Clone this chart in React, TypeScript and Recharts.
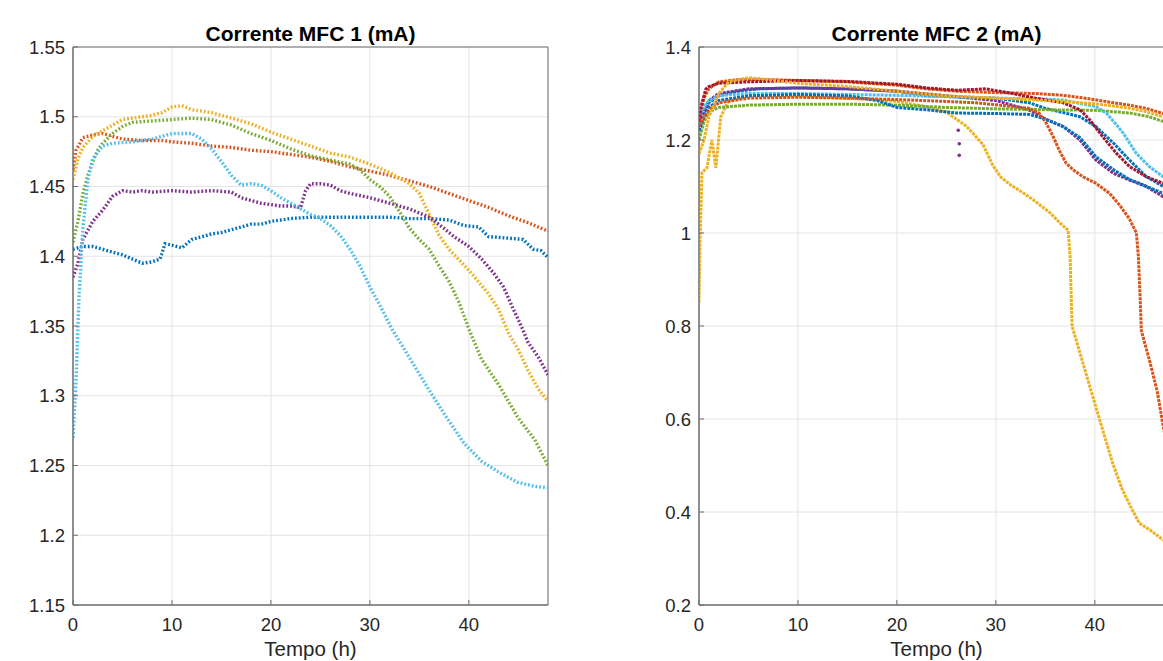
import React from 'react';
import { ComposedChart, Line, XAxis, YAxis, CartesianGrid, ReferenceArea, Scatter } from 'recharts';

type P = [number, number];

const xTicks = [0, 10, 20, 30, 40];
const yTicks1 = [1.15, 1.2, 1.25, 1.3, 1.35, 1.4, 1.45, 1.5, 1.55];
const yTicks2 = [0.2, 0.4, 0.6, 0.8, 1, 1.2, 1.4];
const title1 = 'Corrente MFC 1 (mA)';
const title2 = 'Corrente MFC 2 (mA)';
const xLabel = 'Tempo (h)';

// ---- MFC 1 series (time h, current mA) ----
const m1Blue: P[] = [[0,1.405],[1,1.407],[2,1.407],[3,1.405],[4,1.403],[5,1.401],[6,1.398],[7,1.395],[8,1.396],[8.8,1.398],[9.3,1.409],[10,1.408],[11,1.406],[12,1.412],[13,1.414],[14,1.416],[15,1.417],[16,1.419],[17,1.421],[18,1.423],[19,1.423],[20,1.425],[21,1.426],[22,1.427],[24,1.428],[26,1.428],[28,1.428],[30,1.428],[32,1.428],[34,1.427],[36,1.427],[38,1.426],[39.5,1.422],[41,1.421],[42,1.414],[44,1.413],[45.5,1.412],[46.5,1.405],[47.3,1.404],[48,1.399]];
const m1Orange: P[] = [[0,1.462],[0.3,1.476],[0.7,1.481],[1,1.485],[2,1.487],[3,1.488],[4,1.486],[5,1.484],[7,1.483],[9,1.483],[10,1.482],[12,1.481],[14,1.479],[16,1.478],[18,1.476],[20,1.475],[22,1.473],[24,1.471],[26,1.468],[28,1.464],[30,1.461],[32,1.458],[34,1.454],[36,1.45],[38,1.445],[40,1.44],[42,1.435],[44,1.429],[46,1.424],[48,1.418]];
const m1Yellow: P[] = [[0,1.455],[0.5,1.47],[1,1.478],[2,1.486],[3,1.49],[4,1.494],[5,1.498],[6,1.499],[8,1.501],[9,1.503],[10,1.507],[11,1.508],[12,1.505],[13,1.504],[14,1.503],[15,1.501],[16,1.499],[17,1.497],[18,1.495],[19,1.492],[20,1.489],[22,1.484],[24,1.479],[26,1.474],[28,1.471],[30,1.466],[32,1.46],[34,1.452],[35,1.445],[36,1.43],[37,1.415],[38,1.405],[40,1.39],[42,1.373],[43,1.362],[44,1.345],[45,1.333],[46,1.318],[47,1.305],[48,1.296]];
const m1Purple: P[] = [[0,1.385],[0.5,1.395],[1,1.412],[2,1.425],[3,1.433],[4,1.443],[5,1.447],[6,1.446],[7,1.447],[8,1.446],[10,1.447],[12,1.446],[14,1.447],[16,1.446],[17,1.442],[18,1.44],[19,1.438],[20,1.437],[21,1.436],[22,1.436],[23,1.435],[23.5,1.447],[24,1.452],[25,1.452],[26,1.451],[27,1.447],[28,1.445],[30,1.442],[32,1.438],[34,1.434],[36,1.428],[37.5,1.42],[38.5,1.414],[40,1.407],[41.3,1.398],[42.5,1.388],[43.5,1.378],[44.5,1.362],[45.3,1.35],[46,1.338],[47,1.328],[48,1.315]];
const m1Green: P[] = [[0,1.41],[0.5,1.425],[1,1.445],[1.5,1.458],[2,1.468],[2.5,1.476],[3,1.481],[4,1.488],[5,1.493],[6,1.496],[8,1.497],[10,1.498],[12,1.499],[14,1.498],[16,1.494],[18,1.488],[20,1.483],[22,1.477],[24,1.472],[26,1.469],[28,1.466],[29,1.462],[30,1.455],[31,1.45],[32,1.443],[33,1.432],[34,1.42],[35,1.412],[36,1.405],[37,1.393],[38,1.382],[39,1.367],[40,1.348],[41.3,1.326],[43.1,1.307],[44.9,1.285],[46.7,1.268],[48,1.25]];
const m1LightBlue: P[] = [[0,1.27],[0.3,1.31],[0.6,1.37],[1,1.42],[1.5,1.455],[2,1.47],[3,1.479],[4,1.481],[6,1.482],[8,1.484],[10,1.488],[12,1.488],[13,1.484],[14,1.477],[15,1.468],[16,1.458],[17,1.451],[18,1.452],[19,1.451],[20,1.447],[21,1.442],[22,1.438],[23,1.434],[24,1.43],[25,1.427],[26,1.422],[27,1.415],[28,1.405],[29,1.393],[30,1.378],[31,1.365],[32.3,1.347],[34.1,1.326],[35.9,1.305],[37.7,1.285],[39.5,1.266],[41.3,1.253],[43.1,1.245],[44.9,1.238],[46.7,1.235],[48,1.234]];

// ---- MFC 2 series ----
const m2BlueA: P[] = [[0,1.23],[0.5,1.26],[1,1.28],[2,1.295],[4,1.305],[6,1.31],[10,1.312],[15,1.31],[20,1.305],[23,1.295],[27,1.292],[30,1.29],[33.4,1.28],[35,1.268],[37,1.258],[38.5,1.25],[40.1,1.229],[41.9,1.193],[43.5,1.157],[45.2,1.121],[46.9,1.1],[48,1.09]];
const m2OrangeA: P[] = [[0,1.24],[0.5,1.29],[1,1.31],[2,1.325],[4,1.33],[7,1.33],[10,1.328],[15,1.325],[20,1.318],[23,1.31],[26,1.305],[30,1.302],[34,1.3],[36.8,1.296],[39,1.29],[41.9,1.28],[43.5,1.275],[45.2,1.268],[46.9,1.257],[48,1.25]];
const m2YellowA: P[] = [[0,0.85],[0.1,0.98],[0.3,1.13],[0.8,1.14],[1.3,1.2],[1.7,1.14],[2.2,1.25],[3,1.285],[5,1.295],[10,1.295],[15,1.29],[20,1.283],[23.3,1.27],[25,1.26],[26,1.245],[27,1.23],[27.7,1.214],[28.7,1.19],[29.7,1.145],[30.5,1.12],[31.5,1.103],[32.5,1.09],[33.8,1.071],[35.5,1.043],[36.5,1.021],[37.3,1.006],[37.5,0.95],[37.7,0.8],[38.8,0.72],[39.8,0.648],[40.8,0.576],[41.8,0.505],[42.8,0.447],[43.8,0.404],[44.5,0.376],[45.6,0.361],[46.9,0.34],[48,0.325]];
const m2PurpleA: P[] = [[0,1.22],[0.5,1.26],[1,1.285],[2,1.3],[5,1.31],[10,1.312],[15,1.31],[20,1.305],[25,1.295],[30,1.285],[33.4,1.264],[35,1.245],[36.8,1.229],[38.5,1.2],[40.1,1.157],[41.9,1.128],[43.5,1.114],[45.2,1.1],[46.9,1.078],[48,1.07]];
const m2GreenA: P[] = [[0,1.2],[0.5,1.24],[1,1.26],[2,1.27],[5,1.275],[10,1.277],[15,1.277],[20,1.275],[25,1.27],[30,1.267],[35,1.265],[40,1.264],[43.5,1.258],[45.5,1.25],[46.9,1.24],[48,1.235]];
const m2LightBlueA: P[] = [[0,1.25],[0.5,1.27],[1,1.285],[2,1.295],[5,1.3],[10,1.3],[15,1.298],[20,1.296],[25,1.293],[30,1.29],[35,1.288],[36.8,1.286],[40.1,1.272],[41.2,1.257],[42.1,1.235],[42.9,1.214],[44.2,1.171],[45.5,1.143],[46.9,1.121],[48,1.11]];
const m2DarkRedA: P[] = [[0,1.24],[0.3,1.28],[0.7,1.31],[1,1.315],[2,1.322],[5,1.325],[10,1.328],[15,1.326],[20,1.32],[23,1.312],[26,1.307],[29,1.31],[31.7,1.3],[34,1.29],[36.8,1.28],[38.5,1.265],[39.5,1.243],[40.8,1.207],[42.2,1.171],[43.5,1.143],[45.2,1.121],[46.9,1.107],[48,1.1]];
const m2BlueB: P[] = [[0,1.22],[0.5,1.25],[1,1.27],[2,1.285],[5,1.295],[10,1.298],[15,1.295],[18,1.285],[20,1.27],[23,1.265],[26,1.258],[30,1.257],[33.4,1.255],[35,1.245],[36.8,1.229],[38.5,1.205],[39.3,1.185],[40.1,1.164],[41.9,1.136],[43.5,1.115],[44.5,1.107],[46.9,1.085],[48,1.08]];
const m2OrangeB: P[] = [[0,1.23],[0.5,1.25],[1,1.265],[2,1.28],[5,1.29],[10,1.292],[15,1.29],[20,1.287],[25,1.283],[28,1.28],[31.7,1.272],[33.4,1.268],[34.4,1.257],[35.1,1.236],[35.8,1.207],[36.4,1.178],[37.1,1.15],[37.8,1.136],[38.8,1.121],[40.1,1.107],[41.5,1.085],[42.5,1.06],[43.5,1.03],[44.2,1.0],[44.4,0.95],[44.6,0.85],[44.7,0.79],[45.6,0.72],[46.3,0.66],[46.9,0.585],[48,0.47]];
const m2YellowB: P[] = [[0,1.17],[0.5,1.2],[1,1.25],[2,1.3],[3,1.325],[5,1.334],[7,1.33],[10,1.322],[15,1.315],[20,1.305],[25,1.295],[30,1.29],[35,1.285],[40,1.278],[43,1.27],[45,1.262],[46.9,1.25],[48,1.245]];
const m2PurpleDots: P[] = [[26.2,1.221],[26.3,1.192],[26.3,1.167]];

const BLUE = '#0072BD';
const ORANGE = '#D95319';
const YELLOW = '#EDB120';
const PURPLE = '#7E2F8E';
const GREEN = '#77AC30';
const LIGHTBLUE = '#4DBEEE';
const DARKRED = '#A2142F';

const rows = (pts: P[]) => pts.map(([t, v]) => ({ t, v }));

type S = { name: string; color: string; pts: P[] };

const series1: S[] = [
  { name: 'b', color: BLUE, pts: m1Blue },
  { name: 'o', color: ORANGE, pts: m1Orange },
  { name: 'y', color: YELLOW, pts: m1Yellow },
  { name: 'p', color: PURPLE, pts: m1Purple },
  { name: 'g', color: GREEN, pts: m1Green },
  { name: 'lb', color: LIGHTBLUE, pts: m1LightBlue },
];

const series2: S[] = [
  { name: 'b1', color: BLUE, pts: m2BlueA },
  { name: 'o1', color: ORANGE, pts: m2OrangeA },
  { name: 'y1', color: YELLOW, pts: m2YellowA },
  { name: 'p1', color: PURPLE, pts: m2PurpleA },
  { name: 'g1', color: GREEN, pts: m2GreenA },
  { name: 'lb1', color: LIGHTBLUE, pts: m2LightBlueA },
  { name: 'dr1', color: DARKRED, pts: m2DarkRedA },
  { name: 'b2', color: BLUE, pts: m2BlueB },
  { name: 'o2', color: ORANGE, pts: m2OrangeB },
  { name: 'y2', color: YELLOW, pts: m2YellowB },
];

const FONT = '"Liberation Sans", Arial, Helvetica, sans-serif';
const AXIS = '#6e6e6e';
const GRID = '#e4e4e4';
const TXT = '#262626';

type PanelProps = {
  left: number;
  width: number;
  yWidth: number;
  right: number;
  yDomain: [number, number];
  yTicks: number[];
  series: S[];
  title: string;
  dash: string;
  sw: number;
  dots?: P[];
};

function Panel(props: PanelProps) {
  const { left, width, yWidth, right, yDomain, yTicks, series, title, dash, sw, dots } = props;
  const H = 661;
  const plotLeft = left + yWidth;
  const plotW = width - yWidth - right;
  return (
    <>
      <div style={{ position: 'absolute', left, top: 0, width, height: H }}>
        <ComposedChart width={width} height={H} margin={{ top: 47, right, left: 0, bottom: 0 }}>
          <CartesianGrid stroke={GRID} strokeWidth={1} />
          <XAxis
            dataKey="t"
            type="number"
            domain={[0, 48]}
            ticks={xTicks}
            allowDataOverflow
            height={56}
            tickSize={-5}
            tickMargin={18}
            tickLine={{ stroke: AXIS }}
            axisLine={{ stroke: AXIS }}
            tick={{ fill: TXT, fontSize: 18.5, fontFamily: FONT }}
            interval={0}
          />
          <YAxis
            type="number"
            dataKey="v"
            domain={yDomain}
            ticks={yTicks}
            allowDataOverflow
            width={yWidth}
            tickSize={-5}
            tickMargin={13}
            tickLine={{ stroke: AXIS }}
            axisLine={{ stroke: AXIS }}
            tick={{ fill: TXT, fontSize: 18.5, fontFamily: FONT }}
            tickFormatter={(v: number) => String(v)}
            interval={0}
          />
          <ReferenceArea x1={0} x2={48} y1={yDomain[0]} y2={yDomain[1]} fill="none" fillOpacity={0} stroke={AXIS} strokeWidth={1} ifOverflow="visible" />
          {series.map((s) => (
            <Line
              key={s.name}
              data={rows(s.pts)}
              dataKey="v"
              type="linear"
              stroke={s.color}
              strokeWidth={sw}
              strokeDasharray={dash}
              dot={false}
              activeDot={false}
              isAnimationActive={false}
              legendType="none"
            />
          ))}
          {dots ? (
            <Scatter
              data={rows(dots)}
              dataKey="v"
              fill={PURPLE}
              isAnimationActive={false}
              shape={(p: any) => <circle cx={p.cx} cy={p.cy} r={1.8} fill={PURPLE} />}
            />
          ) : null}
        </ComposedChart>
      </div>
      <div
        style={{
          position: 'absolute',
          left: plotLeft,
          width: plotW,
          top: 23,
          textAlign: 'center',
          fontFamily: FONT,
          fontWeight: 'bold',
          fontSize: 21,
          lineHeight: '21px',
          color: '#000',
          whiteSpace: 'nowrap',
        }}
      >
        {title}
      </div>
      <div
        style={{
          position: 'absolute',
          left: plotLeft,
          width: plotW,
          top: 639,
          textAlign: 'center',
          fontFamily: FONT,
          fontSize: 20.5,
          lineHeight: '20.5px',
          color: TXT,
          whiteSpace: 'nowrap',
        }}
      >
        {xLabel}
      </div>
    </>
  );
}

export default function App() {
  return (
    <div
      style={{
        position: 'absolute',
        left: 0,
        top: 0,
        width: 1163,
        height: 661,
        overflow: 'hidden',
        background: '#ffffff',
      }}
    >
      <Panel
        left={0}
        width={600}
        yWidth={73}
        right={52}
        yDomain={[1.15, 1.55]}
        yTicks={yTicks1}
        series={series1}
        title={title1}
        dash="1.8 2"
        sw={3.4}
      />
      <Panel
        left={600}
        width={626}
        yWidth={99}
        right={52}
        yDomain={[0.2, 1.4]}
        yTicks={yTicks2}
        series={series2}
        title={title2}
        dash="3 1"
        sw={3}
        dots={m2PurpleDots}
      />
    </div>
  );
}
